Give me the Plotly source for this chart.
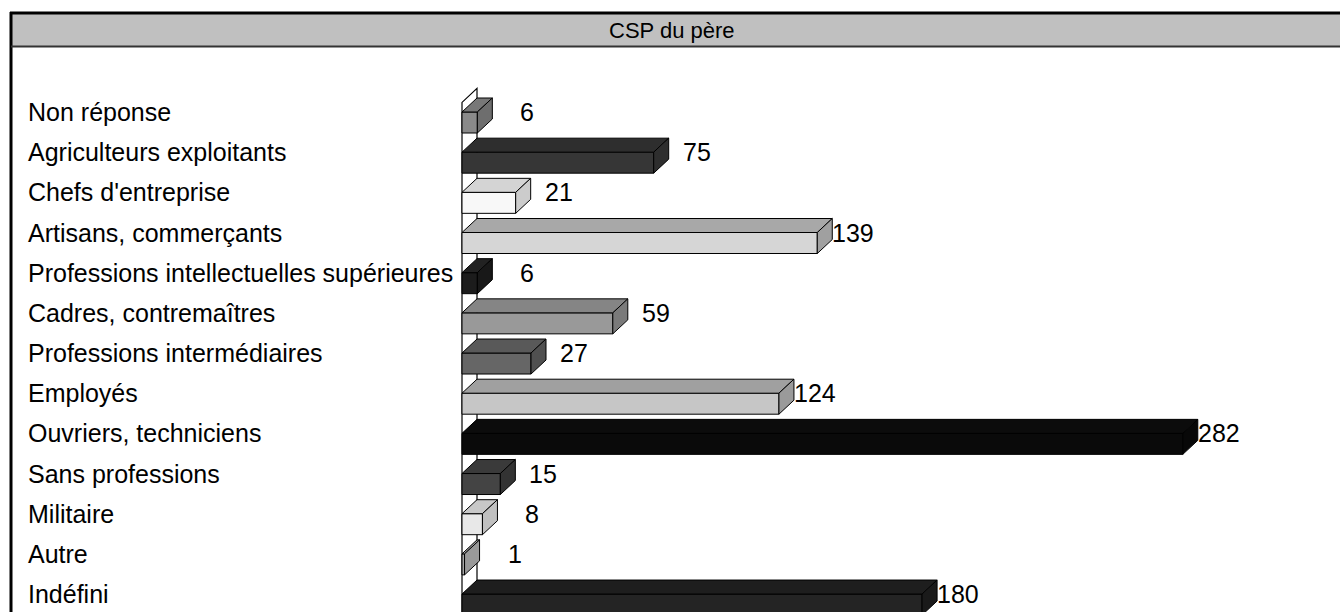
import plotly.graph_objects as go

# ---------------- data ----------------
categories = [
    "Non réponse", "Agriculteurs exploitants", "Chefs d'entreprise",
    "Artisans, commerçants", "Professions intellectuelles supérieures",
    "Cadres, contremaîtres", "Professions intermédiaires", "Employés",
    "Ouvriers, techniciens", "Sans professions", "Militaire", "Autre", "Indéfini",
]
values = [6, 75, 21, 139, 6, 59, 27, 124, 282, 15, 8, 1, 180]
front_colors = ["#8a8a8a", "#363636", "#f8f8f8", "#d6d6d6", "#1c1c1c", "#999999", "#666666",
                "#c6c6c6", "#0a0a0a", "#444444", "#e8e8e8", "#a8a8a8", "#242424"]
top_colors = ["#787878", "#2e2e2e", "#d4d4d4", "#a8a8a8", "#222222", "#858585", "#595959",
              "#a0a0a0", "#0c0c0c", "#3a3a3a", "#c8c8c8", "#a0a0a0", "#1e1e1e"]
side_colors = ["#6e6e6e", "#2e2e2e", "#cccccc", "#a0a0a0", "#181818", "#7a7a7a", "#505050",
               "#9a9a9a", "#080808", "#333333", "#c0c0c0", "#999999", "#1a1a1a"]
title = "CSP du père"

# ---------------- geometry (pixels) ----------------
W, H = 1340, 612
X0_PX, PX_PER_UNIT = 462, 2.556
Y0_PX, ROW_PX = 112, 40.17
DEPTH_X_PX, DEPTH_Y_PX, FRONT_PX = 15, 14, 21
FONT = "Liberation Sans, Arial, sans-serif"
FS = 25

dx = DEPTH_X_PX / PX_PER_UNIT
dy = DEPTH_Y_PX / ROW_PX
h = FRONT_PX / ROW_PX
pos = list(range(len(categories)))

fig = go.Figure()

# front faces
fig.add_trace(go.Bar(
    x=values, y=pos, orientation="h", base=0, width=h, offset=0,
    marker=dict(color=front_colors, line=dict(color="black", width=1)),
    hoverinfo="skip", showlegend=False,
))

# top and side faces
for i, v in enumerate(values):
    top_x = [0, v, v + dx, dx, 0]
    top_y = [i, i, i - dy, i - dy, i]
    fig.add_trace(go.Scatter(x=top_x, y=top_y, mode="lines", fill="toself",
                             fillcolor=top_colors[i], line=dict(color="black", width=1),
                             hoverinfo="skip", showlegend=False))
    side_x = [v, v + dx, v + dx, v, v]
    side_y = [i, i - dy, i - dy + h, i + h, i]
    fig.add_trace(go.Scatter(x=side_x, y=side_y, mode="lines", fill="toself",
                             fillcolor=side_colors[i], line=dict(color="black", width=1),
                             hoverinfo="skip", showlegend=False))

# side wall (axis decoration)
y_bottom = (H - Y0_PX) / ROW_PX + 1
wall_top = -(1 - h) / 2
fig.add_shape(type="path", xref="x", yref="y", layer="below",
              path=f"M 0,{y_bottom} L 0,{wall_top} L {dx},{wall_top - dy} L {dx},{y_bottom}",
              line=dict(color="black", width=1.2), fillcolor="white")

annotations = []
for i, (c, v) in enumerate(zip(categories, values)):
    annotations.append(dict(x=26 / W, xref="paper", y=i, yref="y", text=c, showarrow=False,
                            xanchor="left", yanchor="middle", font=dict(size=FS, color="black", family=FONT)))
    annotations.append(dict(x=v, xref="x", y=i, yref="y", text=str(v), showarrow=False,
                            xanchor="right", yanchor="middle", xshift=59,
                            font=dict(size=FS, color="black", family=FONT)))
annotations.append(dict(x=672 / W, xref="paper", y=1 - 30 / H, yref="paper", text=title,
                        showarrow=False, xanchor="center", yanchor="middle",
                        font=dict(size=22, color="black", family=FONT)))

def py(p):
    return 1 - p / H

shapes = [
    dict(type="rect", xref="paper", yref="paper", x0=11 / W, x1=1.01, y0=py(46), y1=py(13),
         fillcolor="#c0c0c0", line=dict(width=0), layer="below"),
    dict(type="line", xref="paper", yref="paper", x0=10 / W, x1=1.01, y0=py(13), y1=py(13),
         line=dict(color="black", width=3)),
    dict(type="line", xref="paper", yref="paper", x0=11 / W, x1=11 / W, y0=-0.01, y1=py(12),
         line=dict(color="black", width=3)),
    dict(type="line", xref="paper", yref="paper", x0=11 / W, x1=1.01, y0=py(46.5), y1=py(46.5),
         line=dict(color="#333333", width=2)),
]
for s in shapes:
    fig.add_shape(**s)

fig.update_layout(
    width=W, height=H, margin=dict(l=0, r=0, t=0, b=0),
    paper_bgcolor="white", plot_bgcolor="white",
    xaxis=dict(range=[-X0_PX / PX_PER_UNIT, (W - X0_PX) / PX_PER_UNIT], visible=False, fixedrange=True),
    yaxis=dict(range=[(H - Y0_PX) / ROW_PX, -Y0_PX / ROW_PX], visible=False, fixedrange=True),
    annotations=annotations, showlegend=False,
)

fig.write_html("out.html", config={"displayModeBar": False},
               post_script="document.body.style.margin='0';document.body.style.overflow='hidden';")
